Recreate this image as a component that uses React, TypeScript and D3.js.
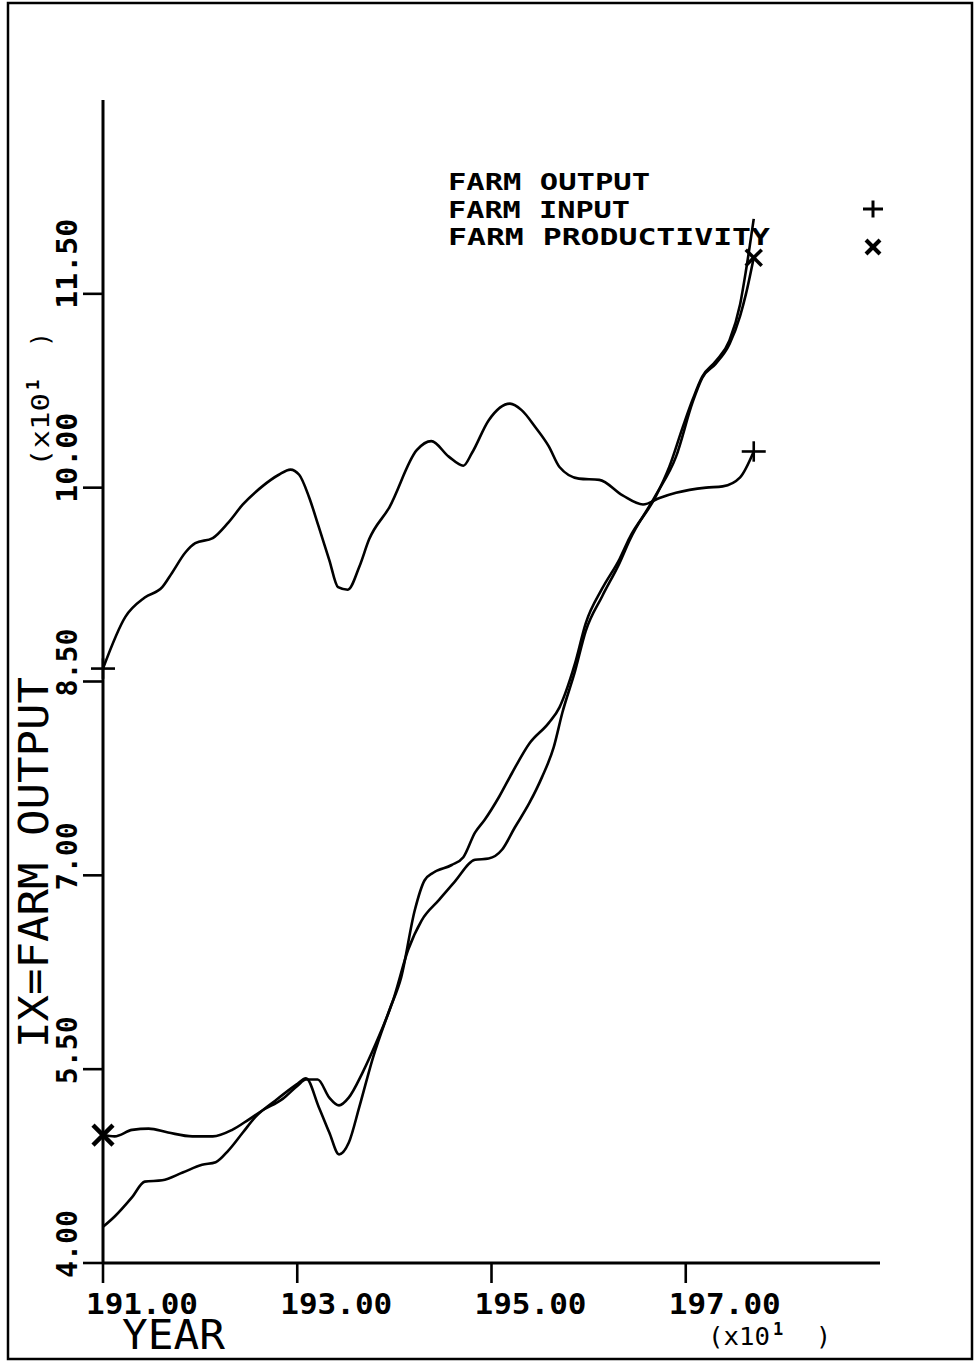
import React from 'react';
import * as d3 from 'd3';

const W = 976;
const H = 1365;

const xTicks = [1910, 1930, 1950, 1970];
const xTickLabels = ['191.00', '193.00', '195.00', '197.00'];
const yTicks = [40, 55, 70, 85, 100, 115];
const yTickLabels = ['4.00', '5.50', '7.00', '8.50', '10.00', '11.50'];

const legendLabels = ['FARM OUTPUT', 'FARM INPUT', 'FARM PRODUCTIVITY'];

const inputYears = [1910, 1912.3, 1914.3, 1916.1, 1917.1, 1918.5, 1919.5, 1921.3, 1922.9, 1924.4, 1926.4, 1928.1, 1929.3, 1930.2, 1931.2, 1932.2, 1933.3, 1934.2, 1935.2, 1936.4, 1937.4, 1939.5, 1942.3, 1943.8, 1945.6, 1947.1, 1948, 1949.7, 1951.9, 1953.1, 1954.5, 1955.9, 1957, 1959, 1961.1, 1963.5, 1965.6, 1967.3, 1969, 1972.1, 1973.8, 1975.6, 1977];
const inputValues = [86.0, 90.0, 91.5, 92.3, 93.4, 95.0, 95.7, 96.1, 97.3, 98.7, 100.1, 101.0, 101.4, 101.0, 99.3, 97.0, 94.4, 92.3, 92.1, 93.9, 96.0, 98.5, 102.9, 103.6, 102.4, 101.7, 102.7, 105.2, 106.5, 106.0, 104.7, 103.2, 101.6, 100.7, 100.6, 99.4, 98.7, 99.2, 99.6, 100.0, 100.1, 100.8, 102.8];

const outputYears = [1910, 1911.2, 1913, 1914.3, 1916.1, 1918.2, 1920.2, 1921.6, 1922.9, 1924.4, 1925.7, 1927.8, 1929.9, 1930.9, 1932.2, 1933.3, 1934.3, 1935.3, 1936.4, 1937.8, 1939.5, 1940.7, 1942.1, 1943.1, 1944, 1945.9, 1947.1, 1948.3, 1949.3, 1950.8, 1952.1, 1953.9, 1955.9, 1957, 1957.6, 1958.6, 1959.7, 1961.4, 1963.2, 1964.2, 1966.9, 1968.3, 1969.7, 1970.7, 1971.7, 1973.1, 1974.5, 1975.6, 1976.2, 1977];
const outputValues = [42.8, 43.6, 45.1, 46.3, 46.4, 47.0, 47.6, 47.8, 48.7, 50.1, 51.3, 52.6, 53.8, 54.3, 52.1, 50.1, 48.4, 49.3, 52.1, 55.9, 59.6, 62.1, 67.3, 69.6, 70.2, 70.8, 71.4, 73.3, 74.3, 76.1, 77.9, 80.2, 81.8, 83.0, 84.1, 86.4, 89.5, 92.2, 94.5, 96.1, 99.3, 101.6, 104.7, 106.8, 108.6, 109.8, 111.4, 114.2, 116.8, 120.8];

const prodYears = [1910, 1911.2, 1913, 1914.7, 1916.7, 1919.2, 1921.3, 1923.3, 1925, 1926.4, 1928.5, 1930, 1930.9, 1932.1, 1933.3, 1934.3, 1935.3, 1936.7, 1938.1, 1939.9, 1941.4, 1942.8, 1944.6, 1946.2, 1948.3, 1949.7, 1951.1, 1952.4, 1953.9, 1955.2, 1956.4, 1957.3, 1958.6, 1959.7, 1961.4, 1963.2, 1964.2, 1966.9, 1969, 1970.7, 1971.7, 1973.1, 1974.5, 1975.6, 1976.2, 1977];
const prodValues = [49.9, 49.8, 50.3, 50.4, 50.1, 49.8, 49.8, 50.3, 51.1, 51.8, 52.7, 53.7, 54.2, 54.2, 52.8, 52.2, 52.8, 54.7, 57.0, 60.4, 64.2, 66.5, 68.1, 69.5, 71.2, 71.3, 72.0, 73.7, 75.6, 77.6, 79.9, 82.6, 85.8, 88.9, 91.6, 94.2, 95.9, 99.4, 102.4, 106.6, 108.5, 109.6, 111.1, 113.3, 115.0, 117.8];

const FONT = '"DejaVu Sans Mono", "Liberation Mono", monospace';

const x = d3.scaleLinear().domain([1910, 1990]).range([103, 880]);
const y = d3.scaleLinear().domain([40, 130]).range([1263, 100]);

const line = d3
  .line<[number, number]>()
  .x((d) => x(d[0]))
  .y((d) => y(d[1]))
  .curve(d3.curveMonotoneX);

function zip(a: number[], b: number[]): [number, number][] {
  return a.map((v, i) => [v, b[i]] as [number, number]);
}

function Plus({ cx, cy, s = 12, sw = 2.6 }: { cx: number; cy: number; s?: number; sw?: number }) {
  return (
    <g stroke="#000" strokeWidth={sw}>
      <line x1={cx - s} y1={cy} x2={cx + s} y2={cy} />
      <line x1={cx} y1={cy - s * 0.85} x2={cx} y2={cy + s * 0.85} />
    </g>
  );
}

function Cross({ cx, cy, s = 9, sw = 4 }: { cx: number; cy: number; s?: number; sw?: number }) {
  return (
    <g stroke="#000" strokeWidth={sw}>
      <line x1={cx - s} y1={cy - s} x2={cx + s} y2={cy + s} />
      <line x1={cx - s} y1={cy + s} x2={cx + s} y2={cy - s} />
    </g>
  );
}

function Scale10({ transform, len }: { transform: string; len: number }) {
  return (
    <g transform={transform} fontFamily={FONT}>
      <text x={0} y={0} fontSize={25} textLength={len} lengthAdjust="spacingAndGlyphs">
        (x10
      </text>
      <text x={len + 3} y={-10} fontSize={17} fontWeight="bold">
        1
      </text>
      <text x={len + 46} y={0} fontSize={25}>
        )
      </text>
    </g>
  );
}

export default function App() {
  const inputData = zip(inputYears, inputValues);
  const outputData = zip(outputYears, outputValues);
  const prodData = zip(prodYears, prodValues);
  const inLast = inputData[inputData.length - 1];
  const prLast = prodData[prodData.length - 1];

  return (
    <svg
      width={W}
      height={H}
      style={{ position: 'absolute', left: 0, top: 0, background: '#fff' }}
    >
      <rect x={0} y={0} width={W} height={H} fill="#fff" />
      <rect x={8} y={3} width={964} height={1356} fill="none" stroke="#000" strokeWidth={2.5} />

      {/* axes */}
      <line x1={x(1910)} y1={y(40)} x2={x(1910)} y2={y(130)} stroke="#000" strokeWidth={3} />
      <line x1={x(1910)} y1={y(40)} x2={x(1990)} y2={y(40)} stroke="#000" strokeWidth={3} />

      {yTicks.map((t, i) => (
        <g key={'yt' + t}>
          <line x1={x(1910) - 20} y1={y(t)} x2={x(1910)} y2={y(t)} stroke="#000" strokeWidth={2.6} />
          <text
            x={77}
            y={y(t) + 15}
            transform={`rotate(-90, 77, ${y(t) + 15})`}
            fontFamily={FONT}
            fontWeight="bold"
            fontSize={29}
            textLength={yTickLabels[i].length === 5 ? 90 : 68}
            lengthAdjust="spacingAndGlyphs"
          >
            {yTickLabels[i]}
          </text>
        </g>
      ))}

      {xTicks.map((t, i) => (
        <g key={'xt' + t}>
          <line x1={x(t)} y1={y(40)} x2={x(t)} y2={y(40) + 20} stroke="#000" strokeWidth={2.6} />
          <text
            x={x(t) - 17}
            y={1314}
            fontFamily={FONT}
            fontWeight="bold"
            fontSize={29}
            textLength={112}
            lengthAdjust="spacingAndGlyphs"
          >
            {xTickLabels[i]}
          </text>
        </g>
      ))}

      {/* axis titles */}
      <text
        x={122}
        y={1349}
        fontFamily={FONT}
        fontSize={41}
        textLength={103}
        lengthAdjust="spacingAndGlyphs"
      >
        YEAR
      </text>
      <Scale10 transform="translate(708,1345)" len={62} />

      <text
        x={48}
        y={1048}
        transform="rotate(-90, 48, 1048)"
        fontFamily={FONT}
        fontSize={40}
        textLength={371}
        lengthAdjust="spacingAndGlyphs"
      >
        IX=FARM OUTPUT
      </text>
      <Scale10 transform="translate(49,467) rotate(-90)" len={74} />

      {/* legend */}
      {legendLabels.map((l, i) => (
        <text
          key={l}
          x={448}
          y={190 + i * 27.5}
          fontFamily={FONT}
          fontWeight="bold"
          fontSize={23}
          textLength={[202, 182, 322][i]}
          lengthAdjust="spacingAndGlyphs"
        >
          {l}
        </text>
      ))}
      <Plus cx={873} cy={209} s={10} sw={3} />
      <Cross cx={873} cy={247} s={7} sw={4} />

      {/* data lines */}
      <path d={line(inputData) || ''} fill="none" stroke="#000" strokeWidth={2.6} strokeLinejoin="round" />
      <path d={line(outputData) || ''} fill="none" stroke="#000" strokeWidth={2.6} strokeLinejoin="round" />
      <path d={line(prodData) || ''} fill="none" stroke="#000" strokeWidth={2.6} strokeLinejoin="round" />

      {/* markers */}
      <Plus cx={x(inputData[0][0])} cy={y(inputData[0][1])} />
      <Plus cx={x(inLast[0])} cy={y(inLast[1])} />
      <Cross cx={x(prodData[0][0])} cy={y(prodData[0][1])} s={10} sw={4.5} />
      <Cross cx={x(prLast[0])} cy={y(prLast[1])} s={8} sw={3.5} />
    </svg>
  );
}
